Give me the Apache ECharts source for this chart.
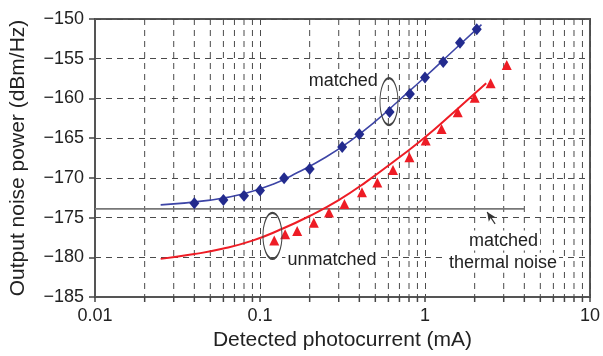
<!DOCTYPE html>
<html>
<head>
<meta charset="utf-8">
<script src="https://cdn.jsdelivr.net/npm/echarts@6/dist/echarts.min.js"></script>
<style>
  html, body { margin: 0; padding: 0; background: #fff; }
  #chart { width: 603px; height: 356px; }
</style>
</head>
<body>
<div id="chart"></div>
<script>
// measured points, matched (blue diamonds)
var matchedX = [0.04, 0.06, 0.08, 0.1, 0.14, 0.2, 0.315, 0.4, 0.61, 0.81, 1.0, 1.29, 1.63, 2.06];
var matchedY = [-173.2, -172.8, -172.25, -171.6, -170.05, -168.9, -166.1, -164.5, -161.7, -159.45, -157.35, -155.4, -153.0, -151.3];

// measured points, unmatched (red triangles)
var unmatchedX = [0.122, 0.142, 0.168, 0.212, 0.262, 0.325, 0.415, 0.514, 0.64, 0.805, 1.01, 1.26, 1.58, 2.0, 2.5, 3.13];
var unmatchedY = [-177.9, -177.1, -176.7, -175.65, -174.35, -173.3, -171.8, -170.6, -169.0, -167.4, -165.3, -163.85, -161.75, -159.9, -158.1, -155.8];

// fitted curves
var fitMatchedX = [0.025, 0.05, 0.08, 0.12, 0.17, 0.25, 0.35, 0.5, 0.7, 1, 1.5, 2.2];
var fitMatchedY = [-173.4, -172.8, -172.0, -170.8, -169.3, -167.4, -165.4, -162.9, -160.2, -157.3, -153.9, -150.7];
var fitUnmatchedX = [0.025, 0.04, 0.06, 0.09, 0.13, 0.2, 0.3, 0.44, 0.7, 1, 1.5, 2.35];
var fitUnmatchedY = [-180.2, -179.6, -178.9, -177.9, -176.6, -174.8, -172.8, -170.5, -167.4, -164.9, -161.7, -158.1];

// matched thermal noise level
var thermalX = [0.01, 4];
var thermalY = [-173.9, -173.9];

// minor log grid positions
var minorX = [0.02, 0.03, 0.04, 0.05, 0.06, 0.07, 0.08, 0.09,
              0.2, 0.3, 0.4, 0.5, 0.6, 0.7, 0.8, 0.9,
              2, 3, 4, 5, 6, 7, 8, 9];

// annotations
var noteText = ['matched', 'unmatched', 'matched', 'thermal noise'];
var noteX = [0.32, 0.273, 2.99, 2.97];
var noteY = [-157.8, -180.35, -177.9, -180.7];
var ovalX = [0.605, 0.119];
var ovalY = [-160.4, -177.3];
var arrowFrom = [2.66, -175.8];
var arrowTo = [2.38, -174.3];

function zip(xs, ys) {
    return xs.map(function (x, i) { return [x, ys[i]]; });
}

var font = '"Liberation Sans", Arial, Helvetica, sans-serif';
var gridColor = '#4a4a4a';

var chart = echarts.init(document.getElementById('chart'));

chart.setOption({
    animation: false,
    textStyle: { fontFamily: font },
    grid: {
        left: 93, right: 10, top: 19, bottom: 58,
        show: true, borderColor: '#555', borderWidth: 2
    },
    xAxis: {
        type: 'log',
        logBase: 10,
        min: 0.01,
        max: 10,
        name: 'Detected photocurrent (mA)',
        nameLocation: 'middle',
        nameGap: 33,
        nameTextStyle: { fontSize: 21, color: '#222', fontFamily: font },
        axisLine: { lineStyle: { color: '#555', width: 2 } },
        axisTick: { show: true, length: 5, lineStyle: { color: '#444', width: 1.5 } },
        axisLabel: {
            fontSize: 18, color: '#222', margin: 10, fontFamily: font,
            formatter: function (v) { return String(Number(v.toPrecision(2))); }
        },
        splitLine: { show: true, lineStyle: { color: gridColor, type: [6, 5], width: 1 } }
    },
    yAxis: {
        type: 'value',
        min: -185,
        max: -150,
        interval: 5,
        name: 'Output noise power (dBm/Hz)',
        nameLocation: 'middle',
        nameGap: 66,
        nameTextStyle: { fontSize: 21, color: '#222', fontFamily: font },
        axisLine: { show: true, lineStyle: { color: '#555', width: 2 } },
        axisTick: { show: true, length: 6, lineStyle: { color: '#444', width: 1.5 } },
        axisLabel: {
            fontSize: 18, color: '#222', margin: 11, fontFamily: font,
            formatter: function (v) { return '\u2212' + Math.abs(v); }
        },
        splitLine: { show: true, lineStyle: { color: gridColor, type: [6, 5], width: 1 } }
    },
    series: [
        {
            name: 'minor grid',
            type: 'custom',
            silent: true,
            z: 1,
            clip: false,
            data: minorX.map(function (x) { return [x, -185]; }),
            encode: { x: 0, y: 1 },
            renderItem: function (params, api) {
                var top = api.coord([api.value(0), -150]);
                var bot = api.coord([api.value(0), -185]);
                return {
                    type: 'group',
                    children: [
                        {
                            type: 'line',
                            shape: { x1: top[0], y1: top[1], x2: bot[0], y2: bot[1] },
                            style: { stroke: gridColor, lineWidth: 1, lineDash: [6, 5] }
                        },
                        {
                            type: 'line',
                            shape: { x1: bot[0], y1: bot[1], x2: bot[0], y2: bot[1] + 5 },
                            style: { stroke: '#444', lineWidth: 1.5 }
                        }
                    ]
                };
            }
        },
        {
            name: 'thermal',
            type: 'line',
            data: zip(thermalX, thermalY),
            symbol: 'none',
            lineStyle: { color: '#777', width: 1.8 },
            z: 2,
            markLine: {
                silent: true,
                symbol: ['none', 'arrow'],
                symbolSize: [6, 9],
                lineStyle: { color: '#333', width: 1.2, type: 'solid' },
                label: { show: false },
                data: [[{ coord: arrowFrom }, { coord: arrowTo }]]
            }
        },
        {
            name: 'matched fit',
            type: 'line',
            data: zip(fitMatchedX, fitMatchedY),
            smooth: true,
            symbol: 'none',
            lineStyle: { color: '#3d45a6', width: 1.6 },
            z: 3
        },
        {
            name: 'unmatched fit',
            type: 'line',
            data: zip(fitUnmatchedX, fitUnmatchedY),
            smooth: true,
            symbol: 'none',
            lineStyle: { color: '#ee1c25', width: 2 },
            z: 3
        },
        {
            name: 'matched',
            type: 'scatter',
            data: zip(matchedX, matchedY),
            symbol: 'diamond',
            symbolSize: [10, 12],
            itemStyle: { color: '#232b8e', opacity: 1 },
            z: 4
        },
        {
            name: 'unmatched',
            type: 'scatter',
            data: zip(unmatchedX, unmatchedY),
            symbol: 'triangle',
            symbolSize: [10, 10],
            itemStyle: { color: '#ee1c25', opacity: 1 },
            z: 4
        },
        {
            name: 'ovals',
            type: 'scatter',
            silent: true,
            data: zip(ovalX, ovalY),
            symbol: 'circle',
            symbolSize: function (v, p) { return p.dataIndex === 0 ? [18, 47] : [19, 46]; },
            itemStyle: { color: 'rgba(0,0,0,0)', borderColor: '#444', borderWidth: 1.5, opacity: 1 },
            z: 5
        },
        {
            name: 'notes',
            type: 'scatter',
            silent: true,
            symbolSize: 0,
            itemStyle: { opacity: 1 },
            data: noteText.map(function (t, i) { return { name: t, value: [noteX[i], noteY[i]] }; }),
            label: {
                show: true,
                position: 'inside',
                formatter: '{b}',
                fontSize: 18,
                color: '#222',
                textBorderWidth: 0,
                fontFamily: font,
                backgroundColor: '#fff',
                padding: [1, 2]
            },
            z: 6
        }
    ]
});
</script>
</body>
</html>
